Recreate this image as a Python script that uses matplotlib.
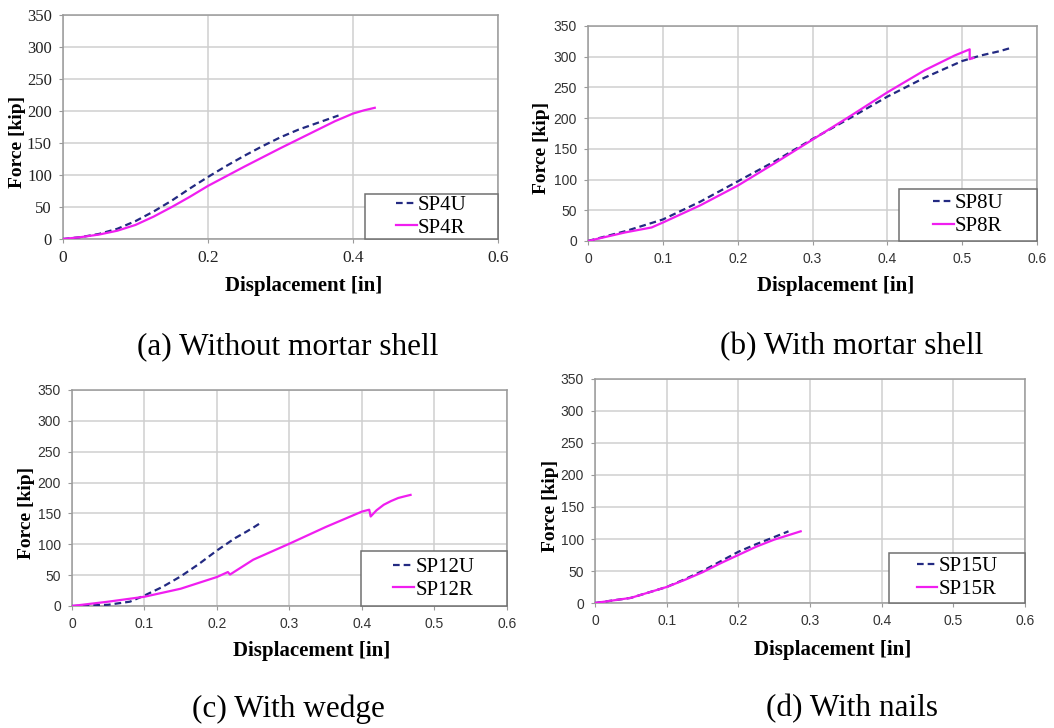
import matplotlib
matplotlib.use("Agg")
import matplotlib.pyplot as plt
from matplotlib.patches import Rectangle

# (a) without mortar shell
disp_sp4u = [0, .025, .05, .075, .1, .125, .15, .175, .2, .225, .25, .275, .3, .325, .35, .365, .38]
force_sp4u = [0, 3, 8, 16, 28, 43, 60, 79, 97, 114, 130, 145, 159, 171, 181, 187, 193]
disp_sp4r = [0, .025, .05, .075, .1, .125, .15, .175, .2, .25, .3, .35, .375, .4, .415, .43]
force_sp4r = [0, 3, 7, 13, 22, 35, 50, 66, 83, 113, 142, 170, 184, 196, 201, 205]

# (b) with mortar shell
disp_sp8u = [0, .05, .1, .15, .2, .25, .3, .35, .4, .45, .5, .525, .55, .567]
force_sp8u = [0, 16, 35, 64, 97, 130, 166, 200, 235, 266, 293, 302, 309, 315]
disp_sp8r = [0, .05, .085, .1, .15, .2, .25, .3, .35, .4, .45, .475, .49, .5, .51, .51, .515]
force_sp8r = [0, 14, 22, 30, 58, 90, 127, 165, 203, 242, 278, 293, 302, 307, 312, 296, 298]

# (c) with wedge
disp_sp12u = [0, .05, .08, .1, .125, .15, .175, .2, .225, .24, .25, .258]
force_sp12u = [0, 2, 7, 17, 31, 48, 68, 90, 110, 120, 127, 133]
disp_sp12r = [0, .05, .1, .15, .2, .215, .218, .25, .3, .35, .4, .41, .412, .42, .43, .44, .45, .46, .467]
force_sp12r = [0, 7, 15, 28, 47, 55, 51, 75, 101, 128, 153, 156, 145, 155, 164, 170, 175, 178, 180]

# (d) with nails
disp_sp15u = [0, .05, .1, .125, .15, .175, .2, .225, .25, .27]
force_sp15u = [0, 8, 25, 37, 50, 65, 80, 92, 103, 112]
disp_sp15r = [0, .05, .1, .125, .15, .175, .2, .225, .25, .27, .287]
force_sp15r = [0, 8, 25, 36, 48, 62, 75, 88, 99, 106, 112]

captions = ["(a) Without mortar shell", "(b) With mortar shell",
            "(c) With wedge", "(d) With nails"]
labels = [("SP4U", "SP4R"), ("SP8U", "SP8R"), ("SP12U", "SP12R"), ("SP15U", "SP15R")]
xticks_a = [0, 0.2, 0.4, 0.6]
xticklabels_a = ["0", "0.2", "0.4", "0.6"]
xticks_b = [0, 0.1, 0.2, 0.3, 0.4, 0.5, 0.6]
xticklabels_b = ["0", "0.1", "0.2", "0.3", "0.4", "0.5", "0.6"]
yticks = [0, 50, 100, 150, 200, 250, 300, 350]

series = [
    (disp_sp4u, force_sp4u, disp_sp4r, force_sp4r),
    (disp_sp8u, force_sp8u, disp_sp8r, force_sp8r),
    (disp_sp12u, force_sp12u, disp_sp12r, force_sp12r),
    (disp_sp15u, force_sp15u, disp_sp15r, force_sp15r),
]

SERIF = "Liberation Serif"
SANS = "Liberation Sans"
NAVY = "#232a82"
MAGENTA = "#f01ef0"

fig = plt.figure(figsize=(10.54, 7.28), dpi=100)

# axes rectangles in figure fraction, and legend boxes in axes fraction
rects = [
    (0.0598, 0.6717, 0.4127, 0.3077),
    (0.5579, 0.6690, 0.4260, 0.2953),
    (0.0683, 0.1676, 0.4127, 0.2967),
    (0.5645, 0.1717, 0.4080, 0.3077),
]
leg_boxes = [
    (0.694, 0.0, 0.306, 0.201),
    (0.693, 0.0, 0.307, 0.242),
    (0.664, 0.0, 0.336, 0.255),
    (0.684, 0.0, 0.316, 0.223),
]

for i, rect in enumerate(rects):
    ax = fig.add_axes(rect)
    du, fu, dr, fr = series[i]
    lu, = ax.plot(du, fu, color=NAVY, lw=1.6, ls=(0, (3, 1.8)), zorder=3)
    lr, = ax.plot(dr, fr, color=MAGENTA, lw=1.6, zorder=3)

    ax.set_xlim(0, 0.6)
    ax.set_ylim(0, 350)
    ax.set_yticks(yticks)
    if i == 0:
        ax.set_xticks(xticks_a)
        ax.set_xticklabels(xticklabels_a, fontfamily=SERIF, fontsize=12.5, color="#222222")
        ax.set_yticklabels([str(v) for v in yticks], fontfamily=SERIF, fontsize=12, color="#222222")
    else:
        ax.set_xticks(xticks_b)
        ax.set_xticklabels(xticklabels_b, fontfamily=SANS, fontsize=10, color="#333333")
        ax.set_yticklabels([str(v) for v in yticks], fontfamily=SANS, fontsize=10, color="#333333")

    ax.grid(True, color="#cfcfcf", lw=1.1, zorder=0)
    ax.set_axisbelow(True)
    for s in ax.spines.values():
        s.set_color("#9a9a9a")
        s.set_linewidth(1.1)
    ax.tick_params(axis="both", length=3, width=0.8, color="#9a9a9a", pad=5)

    ax.set_xlabel("Displacement [in]", fontfamily=SERIF, fontweight="bold", fontsize=15)
    ax.set_ylabel("Force [kip]", fontfamily=SERIF, fontweight="bold", fontsize=14)
    ax.xaxis.set_label_coords(0.552, -0.163)
    ax.yaxis.set_label_coords(-0.084, 0.433)

    bx, by, bw, bh = leg_boxes[i]
    ax.add_patch(Rectangle((bx, by), bw, bh, transform=ax.transAxes, facecolor="white",
                           edgecolor="#707070", lw=1.1, zorder=4, clip_on=False))
    leg = ax.legend([lu, lr], labels[i], loc="center", bbox_to_anchor=(bx, by, bw, bh),
                    frameon=False, prop={"family": SERIF, "size": 15},
                    handlelength=1.0, handletextpad=0.05, labelspacing=0.15,
                    borderpad=0.1, borderaxespad=0)
    leg.set_zorder(5)

fig.text(0.2732, 0.5234, captions[0], fontfamily=SERIF, fontsize=22.5, ha="center", va="center")
fig.text(0.8083, 0.5234, captions[1], fontfamily=SERIF, fontsize=22.5, ha="center", va="center")
fig.text(0.2732, 0.0261, captions[2], fontfamily=SERIF, fontsize=22.5, ha="center", va="center")
fig.text(0.8083, 0.0261, captions[3], fontfamily=SERIF, fontsize=22.5, ha="center", va="center")

fig.savefig("out.png", dpi=100)
